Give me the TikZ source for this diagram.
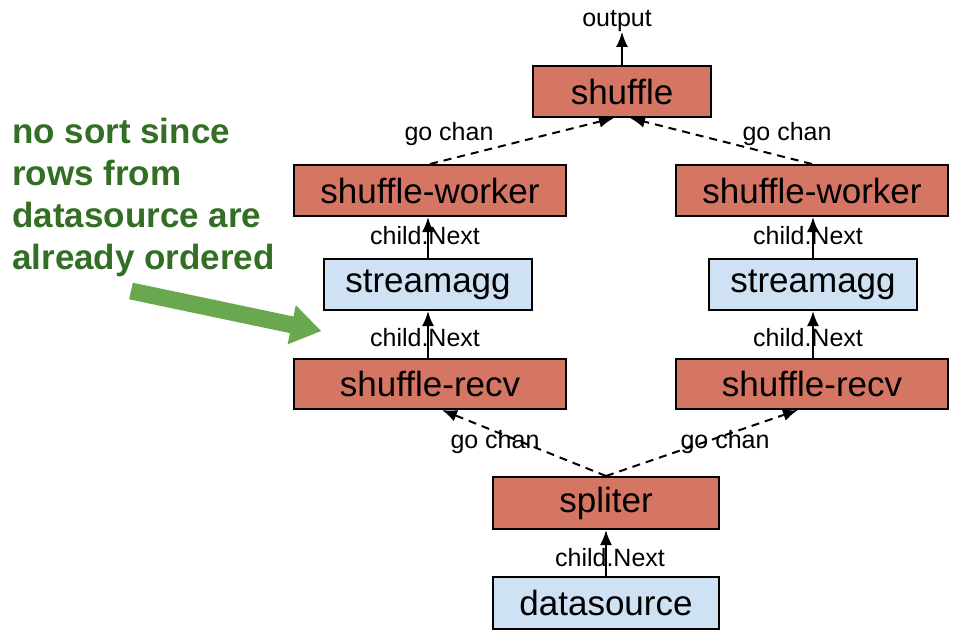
\documentclass[tikz,border=0pt]{standalone}
\usepackage{fontspec}
\setmainfont{Liberation Sans}
\usetikzlibrary{arrows.meta,calc}
\definecolor{boxred}{HTML}{D57563}
\definecolor{boxblue}{HTML}{CFE2F3}
\definecolor{notegreen}{HTML}{326E23}
\definecolor{arrowgreen}{HTML}{6AA84F}
\begin{document}
\begin{tikzpicture}[x=1pt,y=-1pt,
  box/.style={draw=black, line width=2pt, minimum height=51pt, inner sep=0pt, font=\fontsize{35}{40}\selectfont},
  redbox/.style={box, fill=boxred},
  bluebox/.style={box, fill=boxblue},
  lbl/.style={font=\fontsize{25}{30}\selectfont, inner sep=0pt},
  note/.style={font=\fontsize{35}{42}\selectfont\bfseries, text=notegreen, inner sep=0pt, align=left},
  solidarrow/.style={draw=black, line width=2pt, -{Latex[length=15pt,width=12pt]}},
  dasharrow/.style={solidarrow, dash pattern=on 8pt off 6pt},
]
\useasboundingbox (0,0) rectangle (958,640);

% boxes
\node[redbox, minimum width=178pt] (shuffle) at (622,91.5) {shuffle};
\node[lbl] (output) at (617,21) {output};
\node[redbox, minimum width=272pt] (wl) at (430,190.5) {shuffle-worker};
\node[redbox, minimum width=272pt] (wr) at (812,190.5) {shuffle-worker};
\node[bluebox, minimum width=208pt] (sl) at (428,284.5) {streamagg};
\node[bluebox, minimum width=208pt] (sr) at (813,284.5) {streamagg};
\node[redbox, minimum width=272pt, minimum height=50pt] (rl) at (430,384) {shuffle-recv};
\node[redbox, minimum width=272pt, minimum height=50pt] (rr) at (812,384) {shuffle-recv};
\node[redbox, minimum width=226pt, minimum height=52pt] (spl) at (606,503) {spliter};
\node[bluebox, minimum width=226pt, minimum height=52pt] (ds) at (606,603) {datasource};

% connector end points
\coordinate (shinL) at ($(shuffle.south)+(-8,0)$);
\coordinate (shinR) at ($(shuffle.south)+(8,0)$);
\coordinate (rlin) at ($(rl.south)+(12,0)$);
\coordinate (rrin) at ($(rr.south)+(-14,0)$);

% connectors
\draw[solidarrow] (shuffle.north) -- (shuffle.north |- output.south);
\draw[dasharrow] (wl.north) -- (shinL);
\draw[dasharrow] (wr.north) -- (shinR);
\draw[solidarrow] (sl.north) -- (sl.north |- wl.south);
\draw[solidarrow] (sr.north) -- (sr.north |- wr.south);
\draw[solidarrow] (rl.north -| sl.south) -- (sl.south);
\draw[solidarrow] (rr.north -| sr.south) -- (sr.south);
\draw[dasharrow] (spl.north) -- (rlin);
\draw[dasharrow] (spl.north) -- (rrin);
\draw[solidarrow] (ds.north) -- (spl.south);

% connector labels
\node[lbl] (gc1) at (449,134) {go chan};
\node[lbl] (gc2) at (787,134) {go chan};
\node[lbl] (cn1) at (425,236) {child.Next};
\node[lbl] (cn2) at (808,236) {child.Next};
\node[lbl] (cn3) at (425,338) {child.Next};
\node[lbl] (cn4) at (808,338) {child.Next};
\node[lbl] (gc3) at (495,442) {go chan};
\node[lbl] (gc4) at (725,442) {go chan};
\node[lbl] (cn5) at (610,558) {child.Next};

% note
\node[note, anchor=north west] (notetext) at (12,118) {no sort since\\rows from\\datasource are\\already ordered};
\fill[arrowgreen] (129.2,299.3) -- (132.8,282.7) -- (293.5,316.5) -- (295.8,305.2) -- (321,331) -- (287.6,344.4) -- (289.9,333.1) -- cycle;
\end{tikzpicture}
\end{document}
